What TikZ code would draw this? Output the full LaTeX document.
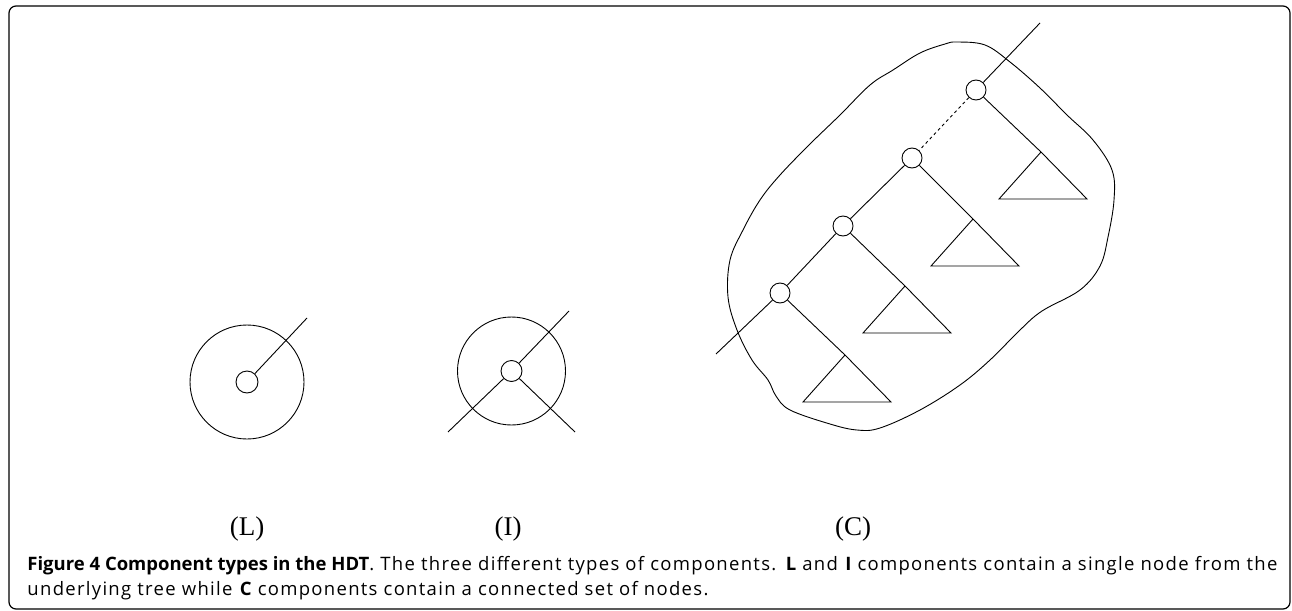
\documentclass[tikz,border=0pt]{standalone}
\usepackage{fontspec}
\setmainfont{Liberation Serif}
\newfontfamily\capfont{Open Sans}[LetterSpace=7, BoldFeatures={LetterSpace=0}]
\begin{document}
\begin{tikzpicture}[x=1pt,y=-1pt,line width=0.9pt]
\useasboundingbox (0,0) rectangle (1292,610);
\draw[line width=1.2pt,rounded corners=7pt] (9,6) rectangle (1290,609);
% (L)
\node[draw, circle, minimum size=114pt, inner sep=0pt] (L) at (247,382) {};
\node[draw, circle, minimum size=22pt, inner sep=0pt] (l) at (247,382) {};
\coordinate (lend) at (307,318);
\path[draw] (l) -- (lend);
% (I)
\node[draw, circle, minimum size=108pt, inner sep=0pt] (I) at (511.5,371) {};
\node[draw, circle, minimum size=21pt, inner sep=0pt] (i) at (511.5,371) {};
\coordinate (ia) at (569,311);
\coordinate (ib) at (448,432);
\coordinate (ic) at (575,432);
\path[draw] (i) -- (ia);
\path[draw] (i) -- (ib);
\path[draw] (i) -- (ic);
% (C)
\draw plot[smooth cycle, tension=0.6] coordinates {
(957,42) (985,45) (1010,62) (1040,88) (1067,115) (1093,140) (1112,170)
(1114,200) (1108,237) (1100,266) (1080,290) (1042,311) (1020,330)
(990,360) (960,385) (920,410) (880,428) (857,430) (830,424) (790,410)
(776,396) (768,380) (752,360) (737,330) (728,297) (730,260) (743,230)
(760,200) (780,175) (810,144) (840,115) (870,85) (893,70) (920,53) (945,44)};
\node[draw, circle, minimum size=20pt, inner sep=0pt] (1) at (976,90) {};
\node[draw, circle, minimum size=20pt, inner sep=0pt] (2) at (912,158) {};
\node[draw, circle, minimum size=20pt, inner sep=0pt] (3) at (843,226) {};
\node[draw, circle, minimum size=20pt, inner sep=0pt] (4) at (780,293) {};
\coordinate (top) at (1040,23);
\coordinate (bot) at (716,354);
\path[draw] (1) -- (top);
\path[draw,dashed] (1) -- (2);
\path[draw] (2) -- (3);
\path[draw] (3) -- (4);
\path[draw] (4) -- (bot);
\foreach \n/\x/\y in {1/1041/152,2/973/219,3/905/286,4/845/355}{
  \coordinate (t\n) at (\x,\y);
  \coordinate (t\n l) at (\x-42,\y+47);
  \coordinate (t\n r) at (\x+46,\y+47);
  \path[draw] (\n) -- (t\n) -- (t\n r) -- (t\n l) -- (t\n);
}
% labels
\node[font=\fontsize{27}{30}\selectfont] (labL) at (247,529) {(L)};
\node[font=\fontsize{27}{30}\selectfont] (labI) at (508,529) {(I)};
\node[font=\fontsize{27}{30}\selectfont] (labC) at (853,529) {(C)};
% caption
\node[anchor=north west, inner sep=0pt, text width=1250pt, align=justify,
  font=\capfont\fontsize{18.5}{25}\selectfont] (cap) at (27,556)
  {\textbf{Figure 4 Component types in the HDT}. The three different types of components. \textbf{L} and \textbf{I} components contain a single node from the underlying tree while \textbf{C} components contain a connected set of nodes.};
\end{tikzpicture}
\end{document}
